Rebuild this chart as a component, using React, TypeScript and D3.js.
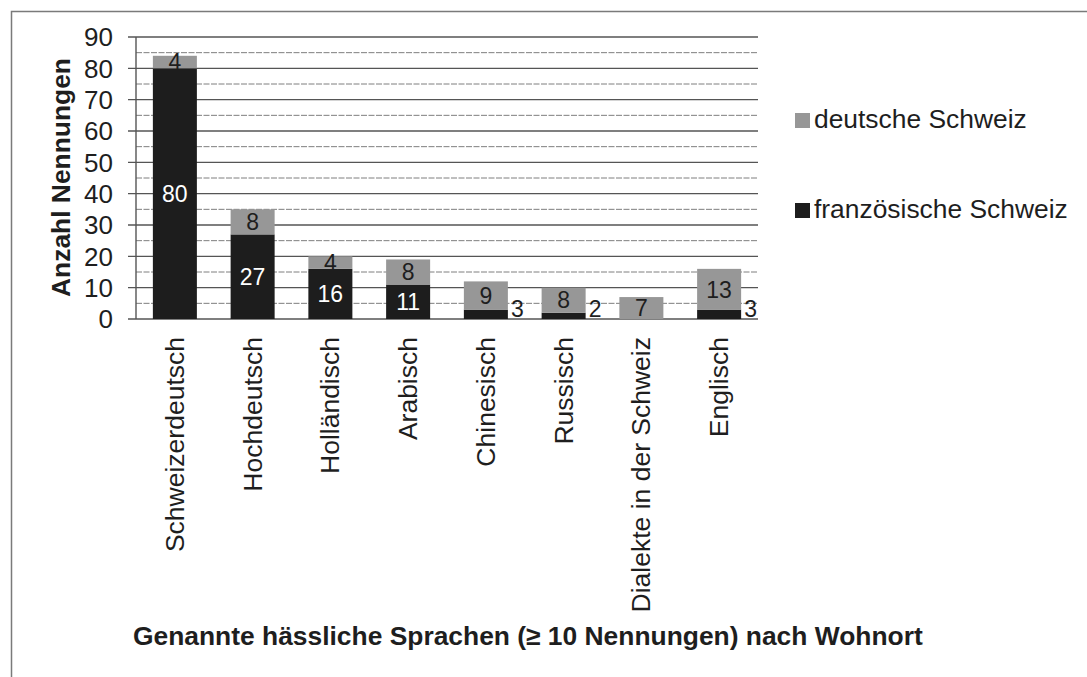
import React from 'react';
import * as d3 from 'd3';

// Werte
const categories = [
  'Schweizerdeutsch',
  'Hochdeutsch',
  'Holländisch',
  'Arabisch',
  'Chinesisch',
  'Russisch',
  'Dialekte in der Schweiz',
  'Englisch',
];
const franzoesisch = [80, 27, 16, 11, 3, 2, 0, 3];
const deutsch = [4, 8, 4, 8, 9, 8, 7, 13];
const yTicks = [0, 10, 20, 30, 40, 50, 60, 70, 80, 90];
const legendNames = ['deutsche Schweiz', 'französische Schweiz'];

const W = 1087;
const H = 677;
const plot = { left: 136, right: 758, top: 37, bottom: 319 };
const font = '"Liberation Sans", Arial, sans-serif';
const gray = '#979797';
const black = '#1d1d1d';

export default function App() {
  const x = d3
    .scaleBand<string>()
    .domain(categories)
    .range([plot.left, plot.right])
    .paddingInner(0.434)
    .paddingOuter(0.217);

  const y = d3.scaleLinear().domain([0, 90]).range([plot.bottom, plot.top]);

  const rows = categories.map((c, i) => ({ cat: c, fr: franzoesisch[i], de: deutsch[i] }));
  const series = d3.stack<any>().keys(['fr', 'de'])(rows);

  const minor = y.ticks(18).filter((t) => t % 10 !== 0);

  return (
    <svg width={W} height={H} style={{ position: 'absolute', left: 0, top: 0, background: '#fff' }}>
      <rect x={11.5} y={11.5} width={1200} height={800} fill="none" stroke="#7a7a7a" strokeWidth={1.5} />

      {/* Gitternetz */}
      {minor.map((t) => (
        <line key={'m' + t} x1={plot.left} x2={plot.right} y1={y(t)} y2={y(t)}
          stroke="#7e7e7e" strokeWidth={1} strokeDasharray="6,1.5" />
      ))}
      {yTicks.map((t) => (
        <line key={'g' + t} x1={plot.left - 8} x2={plot.right} y1={y(t)} y2={y(t)}
          stroke="#555" strokeWidth={1.4} />
      ))}
      <line x1={plot.left} x2={plot.left} y1={plot.top} y2={plot.bottom} stroke="#555" strokeWidth={1.4} />

      {yTicks.map((t) => (
        <text key={'t' + t} x={113} y={y(t)} dy="0.36em" textAnchor="end"
          fontFamily={font} fontSize={26} fill="#1e1e1e">{t}</text>
      ))}

      <text transform="translate(70,177.5) rotate(-90)" textAnchor="middle"
        fontFamily={font} fontSize={26.4} fontWeight="bold" fill="#1e1e1e">Anzahl Nennungen</text>

      {/* Balken */}
      {series.map((s) => (
        <g key={s.key} fill={s.key === 'fr' ? black : gray}>
          {s.map((d: any) => (
            <rect key={d.data.cat} x={x(d.data.cat)} y={y(d[1])}
              width={x.bandwidth()} height={y(d[0]) - y(d[1])} />
          ))}
        </g>
      ))}

      {/* Datenbeschriftungen */}
      {series.map((s) =>
        s.map((d: any) => {
          const v = d[1] - d[0];
          if (v <= 0) return null;
          const bx = x(d.data.cat)!;
          if (s.key === 'fr' && v < 5) {
            return (
              <text key={s.key + d.data.cat} x={bx + x.bandwidth() + 3} y={y(0) - 2}
                fontFamily={font} fontSize={23} fill="#1e1e1e">{v}</text>
            );
          }
          return (
            <text key={s.key + d.data.cat} x={bx + x.bandwidth() / 2} y={y((d[0] + d[1]) / 2)}
              dy="0.36em" textAnchor="middle" fontFamily={font} fontSize={23}
              fill={s.key === 'fr' ? '#fff' : '#1e1e1e'}>{v}</text>
          );
        })
      )}

      {/* Kategorien */}
      {categories.map((c) => (
        <text key={c} transform={`translate(${x(c)! + x.bandwidth() / 2 + 9},337) rotate(-90)`}
          textAnchor="end" fontFamily={font} fontSize={26.5} fill="#1e1e1e">{c}</text>
      ))}

      <text x={133} y={645} fontFamily={font} fontSize={26.4} fontWeight="bold" fill="#1e1e1e">
        Genannte hässliche Sprachen (≥ 10 Nennungen) nach Wohnort
      </text>

      {/* Legende */}
      {legendNames.map((n, i) => {
        const ly = [128, 218][i];
        return (
          <g key={n}>
            <rect x={795} y={ly - 15} width={15} height={15} fill={i === 0 ? gray : black} />
            <text x={814} y={ly} fontFamily={font} fontSize={26.4} fill="#1e1e1e">{n}</text>
          </g>
        );
      })}
    </svg>
  );
}
